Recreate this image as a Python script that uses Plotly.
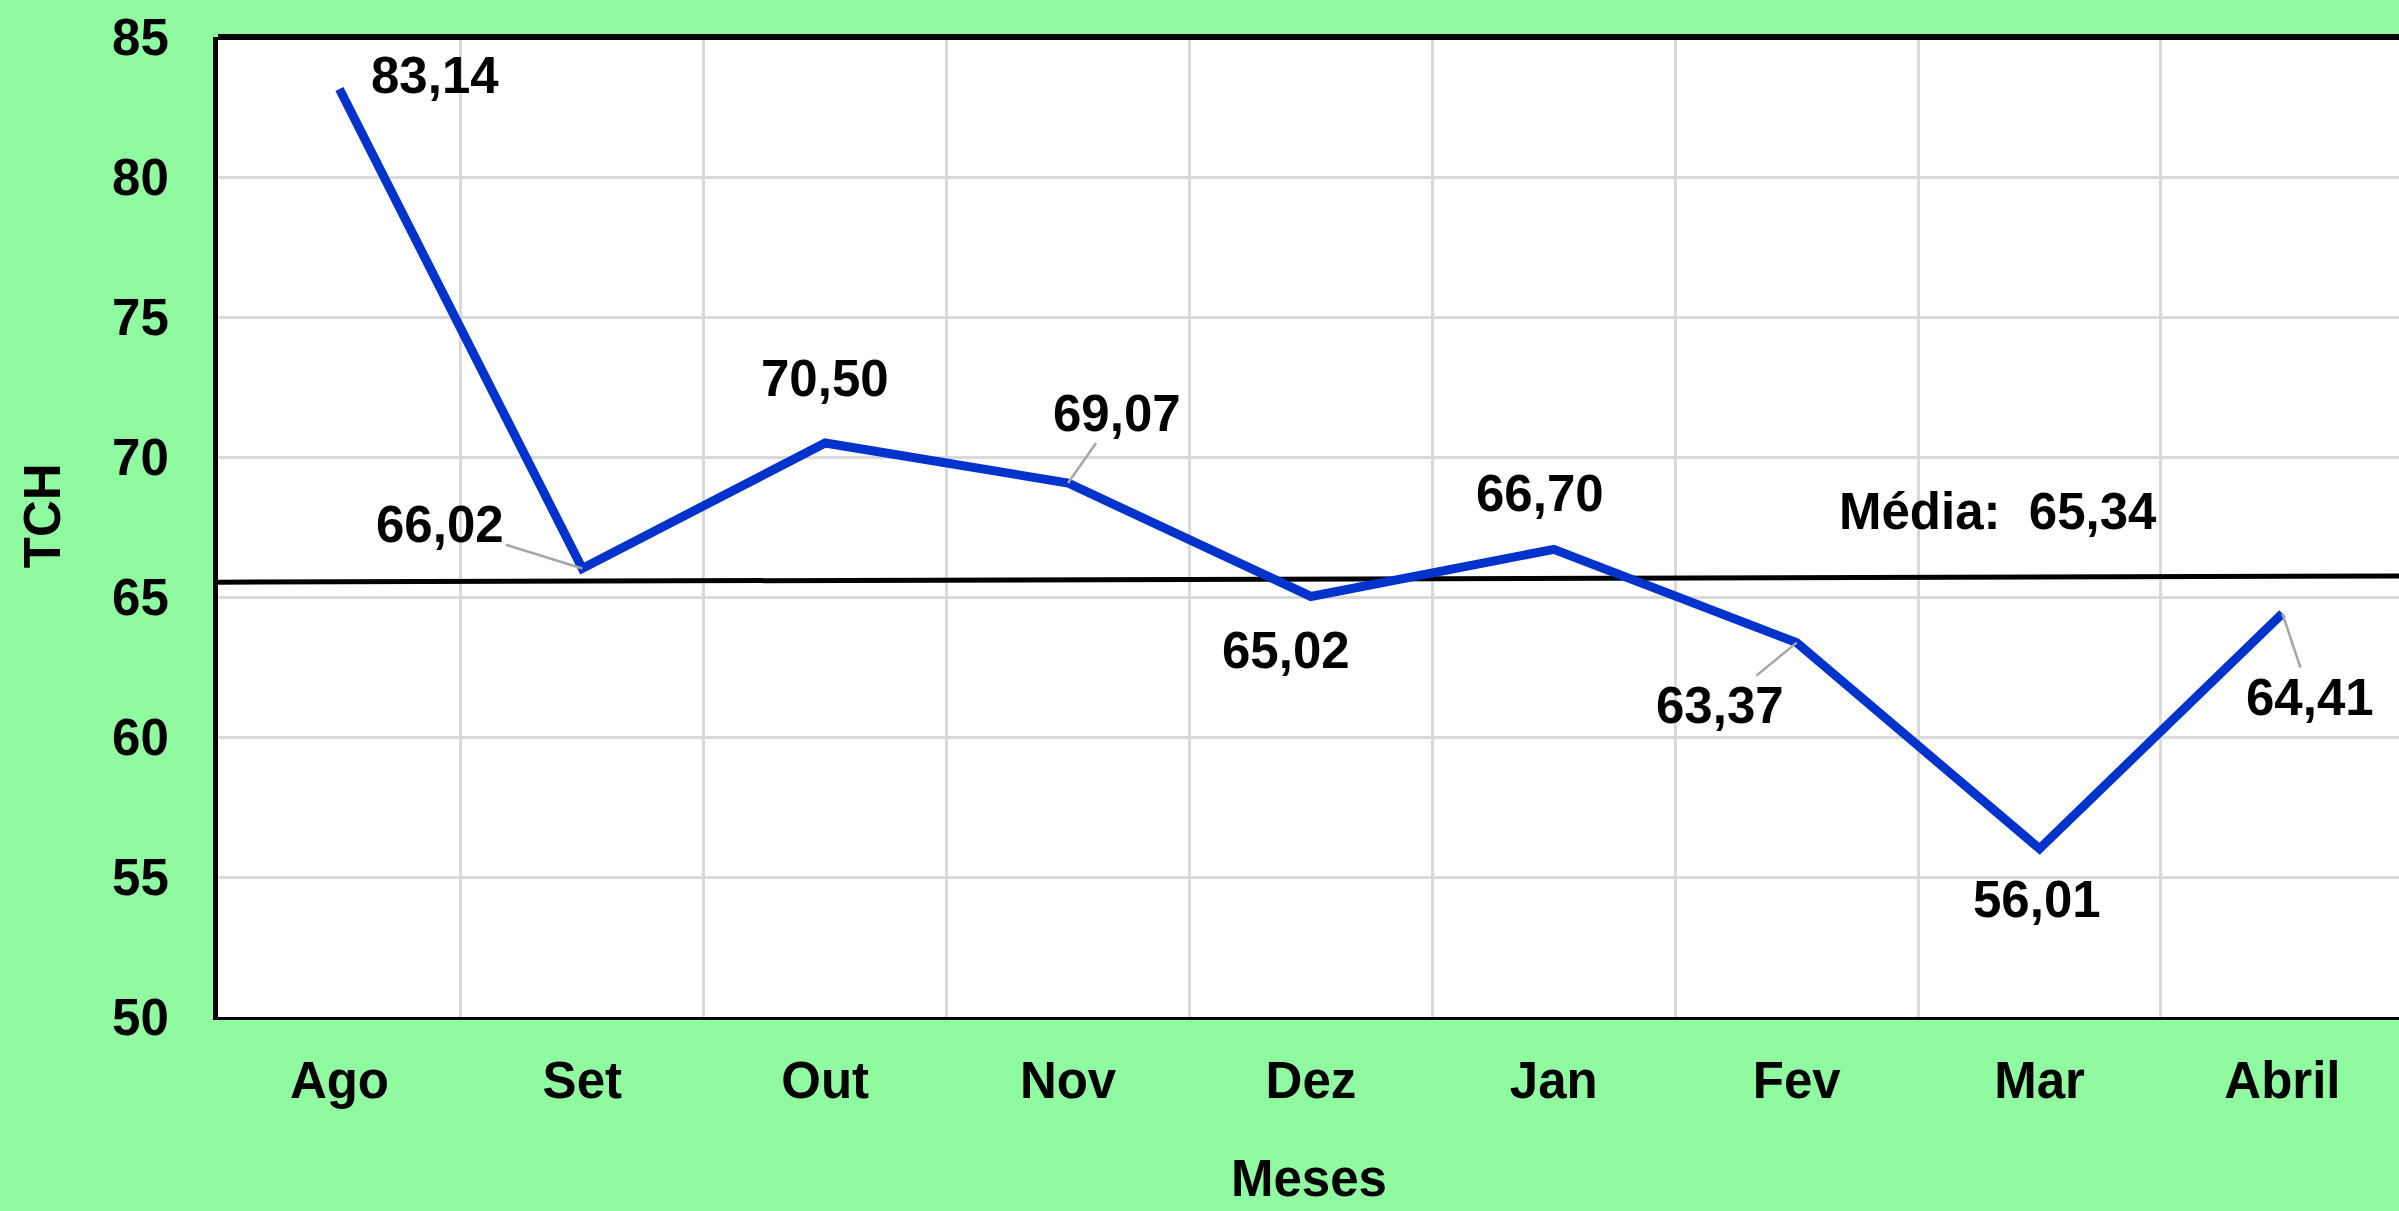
import plotly.graph_objects as go

# ---- data ----
meses = ["Ago", "Set", "Out", "Nov", "Dez", "Jan", "Fev", "Mar", "Abril"]
tch = [83.14, 66.02, 70.50, 69.07, 65.02, 66.70, 63.37, 56.01, 64.41]
media_valor = 65.34
media_x = [-0.5, 8.5]
media_y = [65.53, 65.75]
y_ticks = [50, 55, 60, 65, 70, 75, 80, 85]

# ---- label placement (pixel offsets; style only) ----
# (mode, dx, dy) : mode 's' = shifted text, 'a' = text with leader line
label_pos = [
    ("s", 96, 14),
    ("a", -142, -44),
    ("s", 0, 65),
    ("a", 49, -70),
    ("s", -25, -54),
    ("s", -14, 56),
    ("a", -77, 63),
    ("s", -3, -51),
    ("a", 28, 84),
]

FONT = "Liberation Sans, Arial, sans-serif"
FS = 51
GRID = "#d9d9d9"


def bfont(size=FS):
    return dict(family=FONT, size=size, color="black", weight="bold")


x_idx = list(range(len(meses)))

fig = go.Figure()

fig.add_trace(go.Scatter(
    x=media_x, y=media_y, mode="lines",
    line=dict(color="black", width=5), hoverinfo="skip", showlegend=False))

fig.add_trace(go.Scatter(
    x=x_idx, y=tch, mode="lines",
    line=dict(color="#0033cc", width=9), showlegend=False))

annotations = []
for i, (v, (mode, dx, dy)) in enumerate(zip(tch, label_pos)):
    txt = f"{v:.2f}".replace(".", ",")
    if mode == "s":
        annotations.append(dict(
            x=i, y=v, xref="x", yref="y", text=txt, showarrow=False,
            xanchor="center", yanchor="middle", xshift=dx, yshift=dy,
            font=bfont()))
    else:
        annotations.append(dict(
            x=i, y=v, xref="x", yref="y", text=txt, showarrow=True,
            arrowhead=0, arrowwidth=2.5, arrowcolor="#a6a6a6",
            ax=dx, ay=dy, axref="pixel", ayref="pixel",
            xanchor="center", yanchor="middle",
            font=bfont()))

annotations.append(dict(
    x=6.83, y=68.04, xref="x", yref="y",
    text="Média:  " + f"{media_valor:.2f}".replace(".", ","),
    showarrow=False, xanchor="center", yanchor="middle",
    font=bfont()))

annotations.append(dict(
    x=0, y=0.511, xref="paper", yref="paper", text="TCH", textangle=-90,
    showarrow=False, xanchor="center", yanchor="middle", xshift=-176,
    font=bfont()))

annotations.append(dict(
    x=0.5, y=0, xref="paper", yref="paper", text="Meses",
    showarrow=False, xanchor="center", yanchor="middle", yshift=-161,
    font=bfont()))

fig.update_layout(
    width=2399, height=1211,
    margin=dict(l=218, r=0, t=37, b=194),
    paper_bgcolor="#90faa0",
    plot_bgcolor="white",
    font=bfont(),
    annotations=annotations,
    shapes=[dict(type="line", xref="paper", yref="paper", x0=0, x1=1, y0=1, y1=1,
                 line=dict(color="black", width=6))],
)

fig.update_xaxes(
    range=[-0.5, 8.48], tickmode="array", tickvals=x_idx, ticktext=meses,
    showgrid=False, zeroline=False, showline=True, linecolor="black", linewidth=3,
    ticks="", ticklabelstandoff=17,
    tickfont=bfont(),
    minor=dict(tickmode="array", tickvals=[i + 0.5 for i in range(len(meses) - 1)],
               showgrid=True, gridcolor=GRID, gridwidth=3, ticks=""),
)

fig.update_yaxes(
    range=[50, 85], tickmode="array", tickvals=y_ticks,
    showgrid=True, gridcolor=GRID, gridwidth=3, zeroline=False,
    showline=True, linecolor="black", linewidth=5, ticks="",
    ticklabelstandoff=34,
    tickfont=bfont(),
)

fig.write_html(
    "out.html",
    config={"displayModeBar": False},
    post_script="document.body.style.margin='0';document.body.style.overflow='hidden';",
)
